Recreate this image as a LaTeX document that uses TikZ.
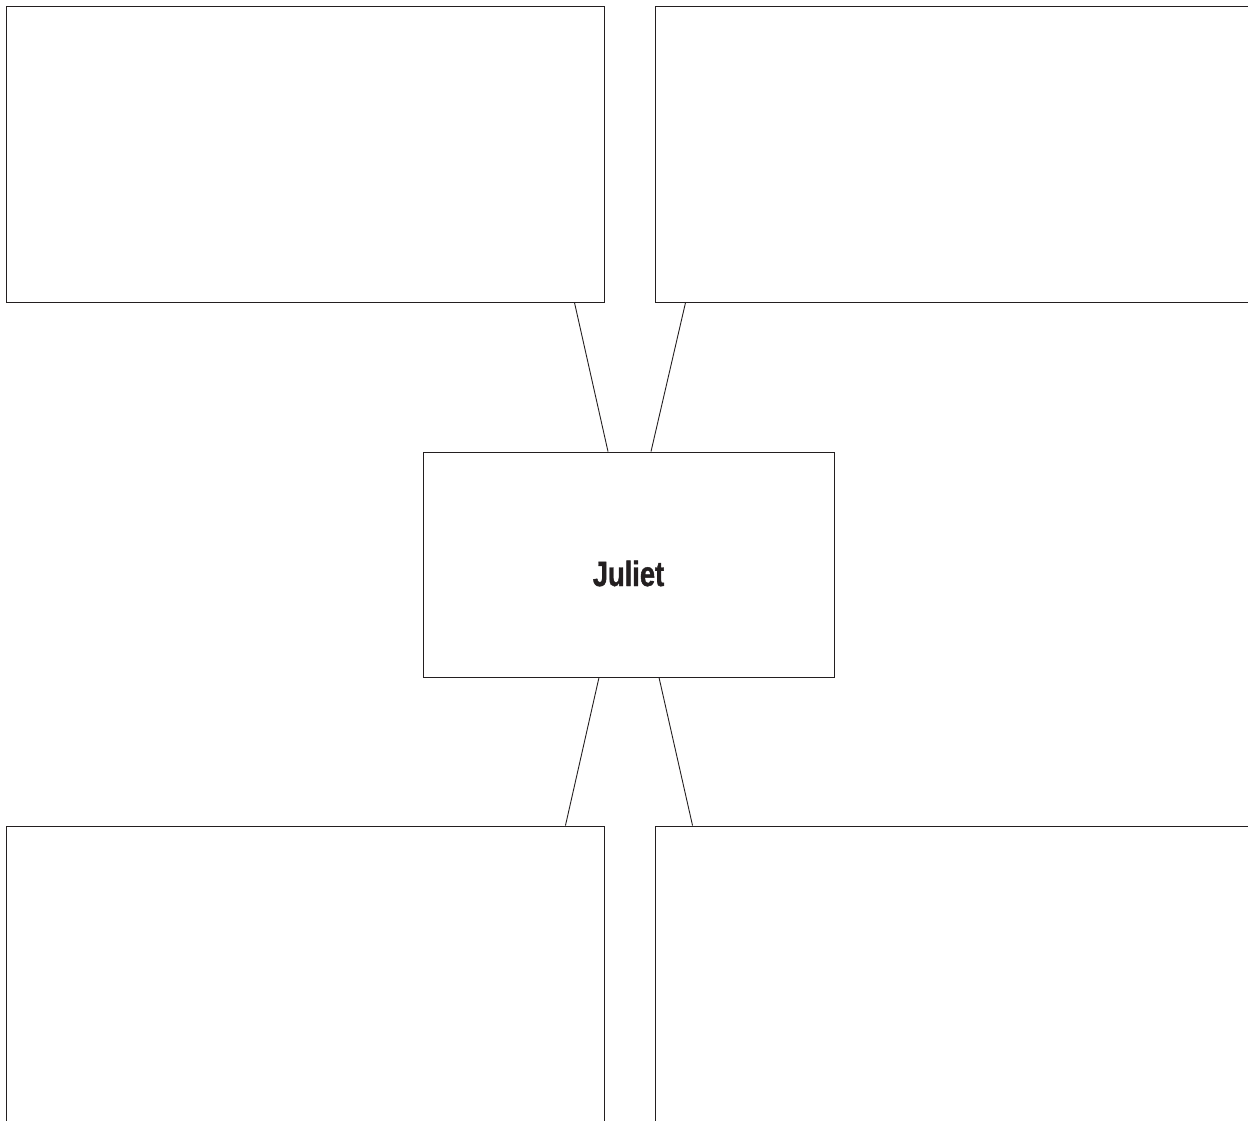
\documentclass[tikz,border=0pt]{standalone}
\usepackage{fontspec}
\newfontfamily\labelfont[FakeStretch=0.78,FakeBold=1.2]{Liberation Sans}
\usepackage{tikz}
\usetikzlibrary{positioning}
\definecolor{inkgray}{HTML}{231F20}

\begin{document}
\begin{tikzpicture}[x=1pt, y=-1pt,
    bigbox/.style={draw=inkgray, line width=0.9pt, minimum width=598pt, minimum height=296pt, inner sep=0pt},
    namebox/.style={draw=inkgray, line width=0.9pt, minimum width=411pt, minimum height=225pt, inner sep=0pt, text height=43pt, text depth=0pt, font=\labelfont\bfseries\fontsize{35}{40}\selectfont, text=inkgray},
    link/.style={draw=inkgray, line width=0.9pt}]
    \useasboundingbox (0,0) rectangle (1248,1120);

    \node [namebox] (juliet) at (628.5,564.5) {Juliet};

    \node [bigbox] (tl) at (305,154) {};
    \node [bigbox] (tr) at (954,154) {};
    \node [bigbox] (bl) at (305,974) {};
    \node [bigbox] (br) at (954,974) {};

    \draw [link] ([xshift=-30pt]tl.south east) -- ([xshift=-20.5pt]juliet.north);
    \draw [link] ([xshift=31pt]tr.south west) -- ([xshift=22.5pt]juliet.north);
    \draw [link] ([xshift=-29.5pt]juliet.south) -- ([xshift=-39pt]bl.north east);
    \draw [link] ([xshift=30.5pt]juliet.south) -- ([xshift=38pt]br.north west);
\end{tikzpicture}
\end{document}
